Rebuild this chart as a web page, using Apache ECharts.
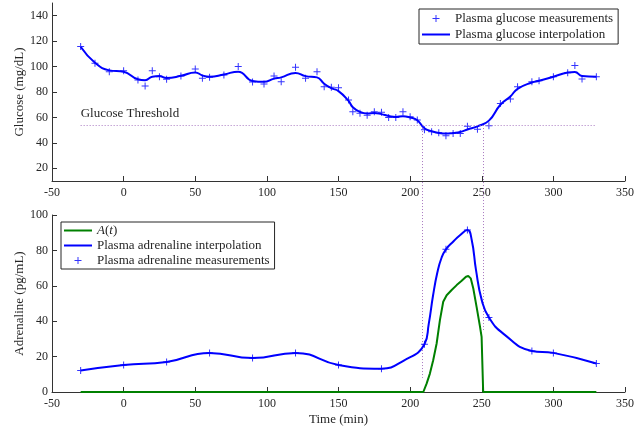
<!DOCTYPE html>
<html><head><meta charset="utf-8">
<script src="https://cdn.jsdelivr.net/npm/echarts@6/dist/echarts.min.js"></script>
<style>html,body{margin:0;padding:0;background:#fff}#c{width:635px;height:428px}</style>
</head><body><div id="c"></div>
<script>
// ---- tick labels ----
const xTicks = [-50, 0, 50, 100, 150, 200, 250, 300, 350];
const glucoseTicks = [20, 40, 60, 80, 100, 120, 140];
const adrenalineTicks = [0, 20, 40, 60, 80, 100];

// ---- glucose measurements ----
const glucoseMeasTime = [-30,-20,-10,0,10,15,20,25,30,40,50,55,60,70,80,90,98,105,110,120,127,135,140,145,150,157,160,165,170,175,180,185,190,195,200,205,210,215,220,225,230,235,240,247,255,263,270,275,285,290,300,310,315,320,330];
const glucoseMeasValue = [115.7,102.6,96,96.8,89.5,84.7,96.8,92,90,92.6,98,90.8,91.6,93.4,100,87.8,86.3,92.6,88,99.5,90.8,96,84.2,83.7,83.4,73.7,64.4,63.2,61.8,64.4,64,60,60,64.4,60.5,58,50.4,48.7,47.9,45.5,47.4,47.4,53.1,50.8,53.4,71,74.5,84.2,88,88.9,92,95.2,100.8,90.2,92];

// ---- glucose interpolation ----
const glucoseInterpTime = [-30,-20,-10,0,10,15,20,25,30,40,50,55,60,70,80,90,98,105,110,120,127,135,140,145,150,157,160,165,170,175,180,185,190,195,200,205,210,215,220,225,230,235,240,247,255,263,270,275,285,290,300,310,315,320,330];
const glucoseInterpValue = [115.6,103,97,95.9,90,89.3,92,92.5,91,92.7,95.4,93,92,93.8,96,88.7,88,90.5,91.5,95,92.5,91.5,86.5,83,80.7,73,68,64.4,63.1,63.5,62.6,61.2,60.4,61,60,57.8,51.5,49.2,47.8,47.3,47.8,48.6,50.5,53,57.5,70,76.5,82.5,87.5,88.8,92,95.3,95.8,92.5,92];

const glucoseThreshold = 54;
const thresholdSpan = [-30, 330];
const crossingTimes = [208, 251];
const crossingLowerEnds = [8, 34];

// ---- adrenaline ----
const adrenalineMeasTime = [-30,0,30,60,90,120,150,180,210,225,240,255,285,300,330];
const adrenalineMeasValue = [12.1,15.3,17,22.1,19.2,22.1,15.3,13.2,27,80.6,91.5,42.1,23.2,22.1,16.1];
const adrenalineInterpTime = [-30,0,30,60,90,120,150,180,195,210,213,216,219,222,225,230,235,240,243,246,250,255,265,285,300,330];
const adrenalineInterpValue = [12.1,15.3,17,22.1,19.2,22.1,15.3,13.2,17.5,27,38.5,54.5,67.5,76,80.6,84.9,88.7,91.5,85.9,68.9,51.9,42.1,33,23.2,22.1,16.1];

// ---- A(t) ----
const aTime = [-30,209.2,211.5,213.8,216.1,218.5,220.8,223.1,225.5,229,232.5,236,239,240.6,242.3,244.1,246.4,248.8,249.9,251,330];
const aValue = [0,0,4.7,10.4,17.9,27.4,40.6,51,54.7,57.6,60.4,62.8,65.1,65.5,64.2,58.5,48.1,36.8,31.1,0,0];

const zip = (a, b) => a.map((v, i) => [v, b[i]]);
const FONT = 'Liberation Serif';
const TXT = '#262626';
const AX = '#333333';
const BLUE = '#0000ff';
const GREEN = '#008000';
const PURPLE = '#a878c0';
const plus = 'path://M-1,-7H1V-1H7V1H1V7H-1V1H-7V-1H-1Z';
const lineIcon = 'path://M0,0H28V2H0Z';

function xAxis(gi) {
  return {
    type: 'value', gridIndex: gi, min: -50, max: 350, interval: 50,
    axisLine: {onZero: false, lineStyle: {color: AX, width: 1}},
    axisTick: {inside: true, length: 5, lineStyle: {color: AX}, customValues: xTicks},
    axisLabel: {color: TXT, fontFamily: FONT, fontSize: 12, margin: 6, customValues: xTicks},
    splitLine: {show: false},
    name: gi === 1 ? 'Time (min)' : '', nameLocation: 'middle', nameGap: 21, nameMoveOverlap: false,
    nameTextStyle: {color: TXT, fontFamily: FONT, fontSize: 13}
  };
}
function yAxis(gi, min, max, ticks, name) {
  return {
    type: 'value', gridIndex: gi, min: min, max: max,
    axisLine: {show: true, onZero: false, lineStyle: {color: AX, width: 1}},
    axisTick: {show: true, inside: true, length: 5, lineStyle: {color: AX}, customValues: ticks},
    axisLabel: {color: TXT, fontFamily: FONT, fontSize: 12, margin: 4, customValues: ticks},
    splitLine: {show: false},
    name: name, nameLocation: 'middle', nameGap: 26, nameRotate: 90, nameMoveOverlap: false,
    nameTextStyle: {color: TXT, fontFamily: FONT, fontSize: 13}
  };
}

const chart = echarts.init(document.getElementById('c'), null, {renderer: 'canvas'});
chart.setOption({
  animation: false,
  backgroundColor: '#fff',
  grid: [
    {left: 52, right: 10, top: 3, bottom: 247, containLabel: false, outerBoundsMode: 'none'},
    {left: 52, right: 10, top: 215, bottom: 36, containLabel: false, outerBoundsMode: 'none'}
  ],
  xAxis: [xAxis(0), xAxis(1)],
  yAxis: [
    yAxis(0, 10, 150, glucoseTicks, 'Glucose (mg/dL)'),
    yAxis(1, 0, 100, adrenalineTicks, 'Adrenaline (pg/mL)')
  ],
  legend: [
    {
      orient: 'vertical', left: 419, top: 9, itemWidth: 28, itemHeight: 7, itemGap: 3,
      padding: [3, 5, 3, 3], borderColor: TXT, borderWidth: 1, backgroundColor: '#fff',
      selectedMode: false,
      textStyle: {fontFamily: FONT, fontSize: 13, color: TXT},
      data: [
        {name: 'Plasma glucose measurements', icon: plus},
        {name: 'Plasma glucose interpolation', icon: lineIcon}
      ]
    },
    {
      orient: 'vertical', left: 61, top: 222, itemWidth: 28, itemHeight: 7, itemGap: 2,
      padding: [2, 5, 2, 3], borderColor: TXT, borderWidth: 1, backgroundColor: '#fff',
      selectedMode: false,
      textStyle: {fontFamily: FONT, fontSize: 13, color: TXT,
        rich: {i: {fontFamily: FONT, fontSize: 13, fontStyle: 'italic', color: TXT}}},
      formatter: function (n) { return n === 'A(t)' ? '{i|A}({i|t})' : n; },
      data: [
        {name: 'A(t)', icon: lineIcon},
        {name: 'Plasma adrenaline interpolation', icon: lineIcon},
        {name: 'Plasma adrenaline measurements', icon: plus}
      ]
    }
  ],
  series: [
    {
      name: 'Plasma glucose interpolation', type: 'line', xAxisIndex: 0, yAxisIndex: 0,
      data: zip(glucoseInterpTime, glucoseInterpValue), smooth: 0.5,
      symbol: 'none', lineStyle: {color: BLUE, width: 2}, itemStyle: {color: BLUE}, z: 3,
      markLine: {
        silent: true, symbol: 'none',
        lineStyle: {color: PURPLE, width: 1, type: [1, 2]},
        label: {show: true, position: 'insideStartTop', formatter: 'Glucose Threshold',
          color: TXT, fontFamily: FONT, fontSize: 13, distance: [0, 5]},
        data: [[{coord: [thresholdSpan[0], glucoseThreshold]}, {coord: [thresholdSpan[1], glucoseThreshold]}]]
      }
    },
    {
      name: 'Plasma glucose measurements', type: 'scatter', xAxisIndex: 0, yAxisIndex: 0,
      data: zip(glucoseMeasTime, glucoseMeasValue), symbol: plus, symbolSize: 7,
      itemStyle: {color: BLUE}, z: 4
    },
    {
      name: 'A(t)', type: 'line', xAxisIndex: 1, yAxisIndex: 1,
      data: zip(aTime, aValue), smooth: false, symbol: 'none',
      lineStyle: {color: GREEN, width: 2}, itemStyle: {color: GREEN}, z: 3
    },
    {
      name: 'Plasma adrenaline interpolation', type: 'line', xAxisIndex: 1, yAxisIndex: 1,
      data: zip(adrenalineInterpTime, adrenalineInterpValue), smooth: 0.5,
      symbol: 'none', lineStyle: {color: BLUE, width: 2}, itemStyle: {color: BLUE}, z: 3
    },
    {
      name: 'Plasma adrenaline measurements', type: 'scatter', xAxisIndex: 1, yAxisIndex: 1,
      data: zip(adrenalineMeasTime, adrenalineMeasValue), symbol: plus, symbolSize: 7,
      itemStyle: {color: BLUE}, z: 4
    }
  ]
});

// vertical dotted lines at the threshold crossings, placed through the library's scales
const gr = crossingTimes.map(function (t, i) {
  const p1 = chart.convertToPixel({gridIndex: 0}, [t, glucoseThreshold]);
  const p2 = chart.convertToPixel({gridIndex: 1}, [t, crossingLowerEnds[i]]);
  return {type: 'line', silent: true, z: 1,
    shape: {x1: Math.round(p1[0]) + 0.5, y1: p1[1], x2: Math.round(p2[0]) + 0.5, y2: p2[1]},
    style: {stroke: PURPLE, lineWidth: 1, lineDash: [1, 2]}};
});
chart.setOption({graphic: gr});
</script>
</body></html>
